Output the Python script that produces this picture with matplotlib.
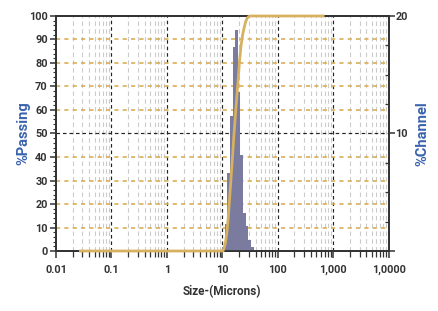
import matplotlib
matplotlib.use('Agg')
import matplotlib.pyplot as plt
import numpy as np
from matplotlib.ticker import FixedLocator, MultipleLocator, NullFormatter, FixedFormatter

plt.rcParams['font.family'] = ['Roboto', 'DejaVu Sans']

# ---- data ----
bin_edges = [10.0, 11.15, 12.4, 13.8, 15.4, 17.2, 19.1, 21.3, 23.8, 26.5, 29.5, 32.9, 36.7]
channel_pct = [0.37, 2.3, 6.6, 11.5, 17.4, 18.8, 13.5, 8.2, 3.2, 2.1, 0.9, 0.37]

cum_size = [0.026, 10.3, 10.8, 11.4, 12.1, 12.8, 13.5, 14.8, 16.3, 17.8, 19.3,
            20.5, 21.9, 23.3, 24.8, 26.4, 28.0, 29.8, 31.8, 700]
cum_pct = [0, 0, 1.3, 3.5, 7.7, 14, 21.7, 35, 50, 62, 72.8,
           81, 87.7, 92, 95, 97.5, 99, 99.7, 100, 100]

x_ticks = [0.01, 0.1, 1, 10, 100, 1000, 10000]
x_tick_labels = ["0.01", "0.1", "1", "10", "100", "1,000", "1,0000"]
left_ticks = [0, 10, 20, 30, 40, 50, 60, 70, 80, 90, 100]
right_ticks = [0, 10, 20]
right_tick_labels = ["", "10", "20"]

# ---- styling ----
dark = '#333333'
blue = '#3a62ad'
gold = '#d6b160'
grid_gold = '#d9af55'
bar_color = '#7a7b9f'

fig = plt.figure(figsize=(4.39, 3.11), dpi=100)
ax1 = fig.add_axes([0.1276, 0.1929, 0.7574, 0.7557])
ax2 = ax1.twinx()

ax1.set_xscale('log')
ax1.set_xlim(0.01, 10000)
ax1.set_ylim(0, 100)
ax2.set_ylim(0, 20)

# grid (drawn on ax1, which sits underneath ax2)
minor_x = [m * 10.0 ** e for e in range(-2, 4) for m in range(2, 10)]
for xv in minor_x:
    ax1.axvline(xv, color='#cbcbcb', lw=0.8, ls=(0, (4, 3)), zorder=0)
for xv in x_ticks[1:-1]:
    ax1.axvline(xv, color='#222222', lw=0.85, ls=(0, (3, 2.5)), zorder=0.5)
for yv in left_ticks[1:-1]:
    if yv == 50:
        ax1.axhline(yv, color='#222222', lw=0.85, ls=(0, (3, 2.5)), zorder=0.6)
    else:
        ax1.axhline(yv, color=grid_gold, lw=1.2, ls=(0, (2.5, 2.5)), zorder=0.6)

# histogram on right axis
edges = np.array(bin_edges)
ax2.bar(edges[:-1], channel_pct, width=np.diff(edges), align='edge',
        color=bar_color, linewidth=0, zorder=2)

# cumulative curve (in %Passing units) drawn above the bars
ax2.plot(cum_size, cum_pct, color=gold, lw=2.0, transform=ax1.transData,
         zorder=3, clip_on=False, solid_capstyle='butt')
ax2.set_ylim(0, 20)
ax2.set_xlim(0.01, 10000)

# spines
for ax in (ax1, ax2):
    for s in ax.spines.values():
        s.set_color(dark)
        s.set_linewidth(1.3)

# x ticks
ax1.xaxis.set_major_locator(FixedLocator(x_ticks))
ax1.xaxis.set_major_formatter(FixedFormatter(x_tick_labels))
ax1.xaxis.set_minor_locator(FixedLocator(minor_x))
ax1.xaxis.set_minor_formatter(NullFormatter())
ax1.tick_params(axis='x', which='major', direction='out', length=5, width=1.1,
                color=dark, labelsize=7.8, labelcolor=dark, pad=5)
ax1.tick_params(axis='x', which='minor', direction='out', length=4, width=0.9, color=dark)

# left y ticks
ax1.yaxis.set_major_locator(FixedLocator(left_ticks))
ax1.yaxis.set_minor_locator(MultipleLocator(2))
ax1.tick_params(axis='y', which='major', direction='out', length=4, width=1.1,
                color=dark, labelsize=7.8, labelcolor=dark, pad=2)
ax1.tick_params(axis='y', which='minor', direction='out', length=2, width=0.8, color=dark)

# right y ticks
ax2.yaxis.set_major_locator(FixedLocator(right_ticks))
ax2.yaxis.set_major_formatter(FixedFormatter(right_tick_labels))
ax2.yaxis.set_minor_locator(MultipleLocator(2.5))
ax2.tick_params(axis='y', which='major', direction='out', length=4, width=1.1,
                color=dark, labelsize=7.8, labelcolor=dark, pad=1)
ax2.tick_params(axis='y', which='minor', direction='in', length=3, width=0.9, color=dark)

for lab in ax1.get_xticklabels() + ax1.get_yticklabels() + ax2.get_yticklabels():
    lab.set_fontweight('bold')

ax1.set_xlabel('Size-(Microns)', fontsize=8.5, fontweight='bold', color=dark, labelpad=7)
ax1.set_ylabel('%Passing', fontsize=10.5, fontweight='bold', color=blue, labelpad=-1)
ax2.set_ylabel('%Channel', fontsize=10.5, fontweight='bold', color=blue, labelpad=5)

fig.savefig('out.png', dpi=100)
